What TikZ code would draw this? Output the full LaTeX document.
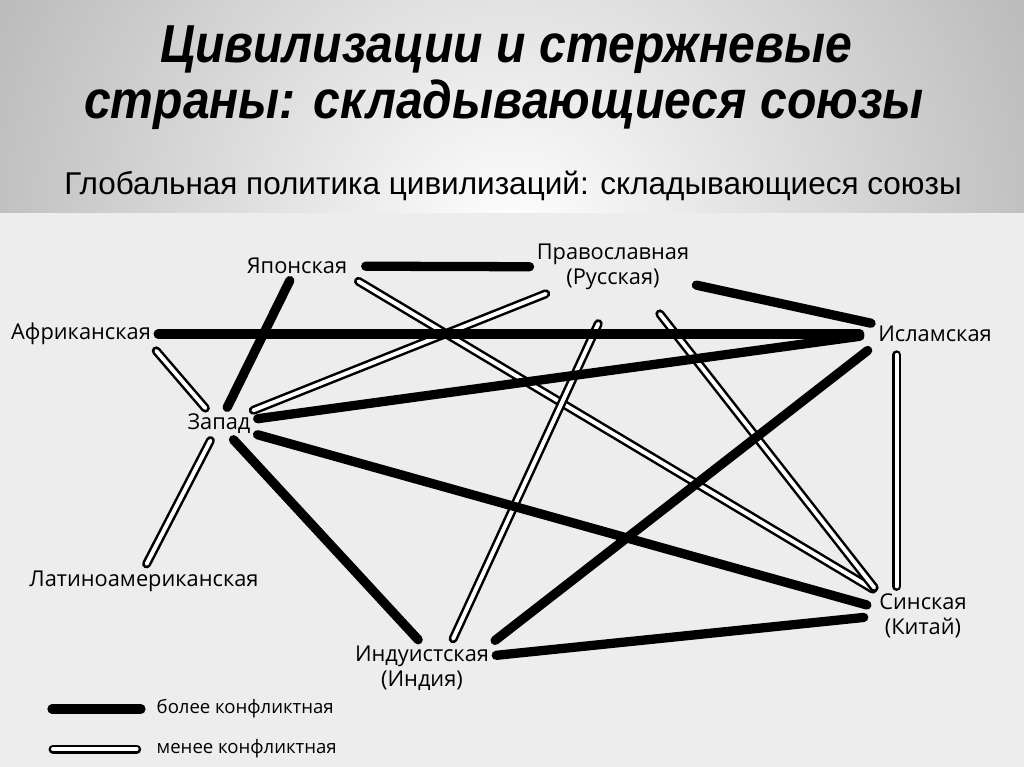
\documentclass[tikz,border=0pt]{standalone}
\usepackage{fontspec}
\setmainfont{Open Sans}
\newfontfamily\headfont[FakeStretch=0.9]{Liberation Sans}
\newfontfamily\subfont{Liberation Sans}
\usetikzlibrary{shapes,arrows}
\tikzset{
    civ/.style  = {inner sep=1pt,
                   align=center,
                   font=\fontsize{15.5}{18}\selectfont
    },
    key/.style  = {inner sep=1pt,
                   anchor=west,
                   font=\fontsize{13.2}{15}\selectfont
    },
    head/.style = {anchor=base,
                   font=\headfont\bfseries\itshape\fontsize{38}{42}\selectfont
    },
    hot/.style  = {line width=6.6pt,
                   line cap=round,
                   shorten >=4pt,
                   shorten <=4pt
    },
    mild/.style = {line width=1.8pt,
                   double=white,
                   double distance=2.8pt,
                   line cap=round,
                   shorten >=4pt,
                   shorten <=4pt
    }
}

\begin{document}
\begin{tikzpicture}[x=0.025cm, y=-0.025cm]
    % page: grey head, paper below
    \useasboundingbox (0,0) rectangle (1024,767);
    \fill[black!7] (0,213) rectangle (1024,767);
    \begin{scope}
        \clip (0,0) rectangle (1024,213);
        \shade[inner color=white, outer color=black!52] (512,240) circle (1100);
    \end{scope}

    \node [head]                  (head1) at (506,63)  {Цивилизации и стержневые};
    \node [head]                  (head2) at (504,119) {страны: складывающиеся союзы};
    \node [head, font=\subfont\fontsize{22.4}{26}\selectfont]
                                  (sub)   at (513,195) {Глобальная политика цивилизаций: складывающиеся союзы};

    % civilisations
    \node [civ] (japan)  at (297,266) {Японская};
    \node [civ] (orth)   at (613,267) {Православная\\(Русская)};
    \node [civ] (africa) at (81,334)  {Африканская};
    \node [civ] (islam)  at (935,334) {Исламская};
    \node [civ] (west)   at (219,424) {Запад};
    \node [civ] (latin)  at (144,581) {Латиноамериканская};
    \node [civ] (hindu)  at (422,668) {Индуистская\\(Индия)};
    \node [civ] (sinic)  at (923,616) {Синская\\(Китай)};

    \draw[hot, shorten <=12pt]  (japan) -- (orth);
    \draw[hot]                  (japan) -- (west);
    \draw[mild, shorten <=8pt]  (japan.south east) -- (sinic.north west);
    \draw[mild]                 (orth) -- (west);
    \draw[hot]                  (orth) -- (islam.north west);
    \draw[mild, shorten <=25pt] (orth.south) -- (hindu.40);
    \draw[mild, shorten <=20pt] (orth.-40) -- (sinic.north west);
    \draw[hot, shorten >=12pt]  (africa) -- (islam.west);
    \draw[mild]                 (africa.south east) -- (west);
    \draw[hot, shorten >=12pt]  (west) -- (islam.west);
    \draw[hot, shorten >=8pt]   (west) -- (sinic.170);
    \draw[hot]                  (west) -- (hindu.north);
    \draw[mild]                 (west) -- (latin.north);
    \draw[mild, shorten <=8pt]  ([xshift=0.5cm]islam.south west)
                                -- ([xshift=0.5cm]islam.south west |- sinic.north);
    \draw[hot, shorten <=8pt]   (islam.south west) -- (hindu.north east);
    \draw[hot, shorten >=10pt]  (hindu.10) -- (sinic.west);

    % legend
    \coordinate (k1) at (52,709);
    \coordinate (k2) at (53,749);
    \node [key] (more) at (155,709) {более конфликтная};
    \node [key] (less) at (155,749) {менее конфликтная};
    \draw[hot, shorten <=0pt, shorten >=10pt]  (k1) -- (more.west);
    \draw[mild, shorten <=0pt, shorten >=13pt] (k2) -- (less.west);
\end{tikzpicture}
\end{document}
